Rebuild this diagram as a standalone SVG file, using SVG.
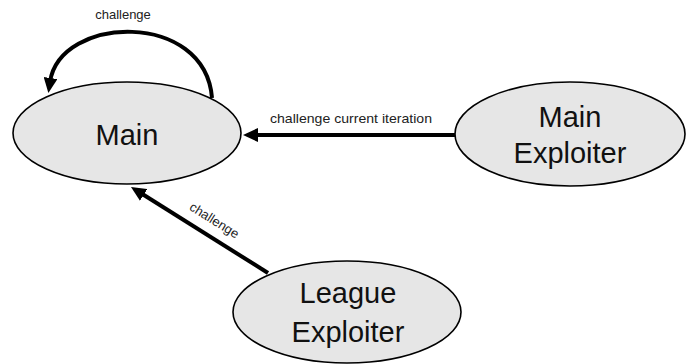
<svg xmlns="http://www.w3.org/2000/svg" width="686" height="364" viewBox="0 0 686 364">
<style>
.node{fill:#e6e6e6;stroke:#000;stroke-width:1.6}
.big{font-family:"Liberation Sans",Arial,sans-serif;font-size:29px;fill:#111;text-anchor:middle}
.lbl{font-family:"Liberation Sans",Arial,sans-serif;font-size:13px;fill:#222;text-anchor:middle}
.edge{fill:none;stroke:#000;stroke-width:4}
</style>
<defs>
<marker id="arr" markerUnits="userSpaceOnUse" markerWidth="16" markerHeight="14" refX="4" refY="7" orient="auto">
<path d="M0,0 L15,7 L0,14 Z" fill="#000"/>
</marker>
</defs>
<g id="connectors">
<path class="edge" d="M212,98 C205,10 60,15 50,82" marker-end="url(#arr)"/>
<text class="lbl" x="123" y="19">challenge</text>
<line class="edge" x1="456" y1="135" x2="254" y2="135" marker-end="url(#arr)"/>
<text class="lbl" x="351" y="123" textLength="162" lengthAdjust="spacingAndGlyphs">challenge current iteration</text>
<line class="edge" x1="268" y1="273" x2="140.3" y2="192.8" marker-end="url(#arr)"/>
<text class="lbl" transform="translate(212,224) rotate(32)" x="0" y="0">challenge</text>
</g>
<g id="main">
<ellipse class="node" cx="127" cy="133" rx="114" ry="51"/>
<text class="big" x="127" y="145">Main</text>
</g>
<g id="main-exploiter">
<ellipse class="node" cx="570" cy="134" rx="115" ry="52"/>
<text class="big" x="570" y="127">Main</text>
<text class="big" x="570" y="163">Exploiter</text>
</g>
<g id="league-exploiter">
<ellipse class="node" cx="347" cy="312" rx="114" ry="51"/>
<text class="big" x="348" y="303">League</text>
<text class="big" x="348" y="342">Exploiter</text>
</g>
</svg>
